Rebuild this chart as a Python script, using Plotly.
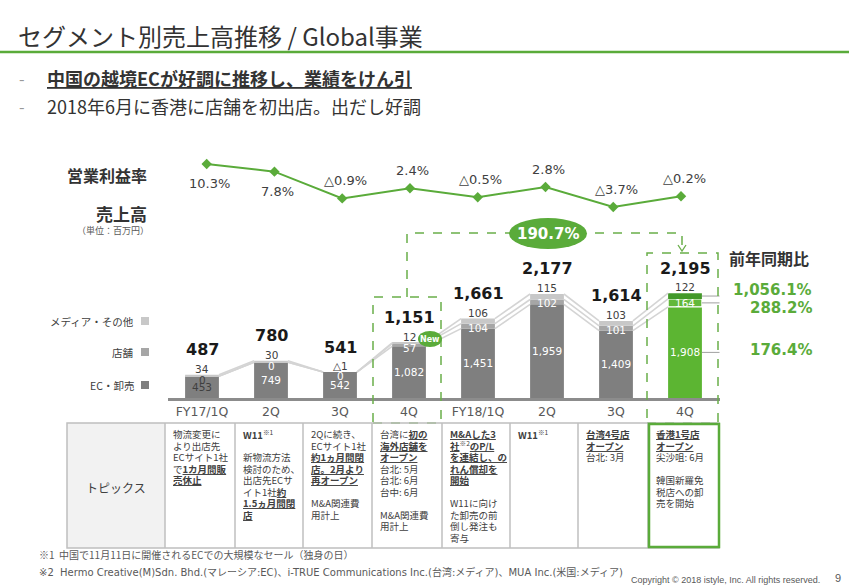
import plotly.graph_objects as go

W, H = 849, 588

# ---------------- data ----------------
categories = ["FY17/1Q", "2Q", "3Q", "4Q", "FY18/1Q", "2Q", "3Q", "4Q"]
ec_sales = [453, 749, 542, 1082, 1451, 1959, 1409, 1908]
store_sales = [0, 0, 0, 57, 104, 102, 101, 164]
media_sales = [34, 30, -1, 12, 106, 115, 103, 122]
total_sales = [487, 780, 541, 1151, 1661, 2177, 1614, 2195]
op_margin = [10.3, 7.8, -0.9, 2.4, -0.5, 2.8, -3.7, -0.2]
yoy_labels = ["1,056.1%", "288.2%", "176.4%"]  # media, store, EC (latest quarter)
two_year_growth = "190.7%"

topics = [
    ["物流変更に", "より出店先", "ECサイト1社", "で<b><u>1カ月間販</u></b>", "<b><u>売休止</u></b>"],
    ["<b>W11</b><sup>※1</sup>", "", "新物流方法", "検討のため、", "出店先ECサ", "イト1社<b><u>約</u></b>",
     "<b><u>1.5ヵ月間閉</u></b>", "<b><u>店</u></b>"],
    ["2Qに続き、", "ECサイト1社", "<b><u>約1ヵ月間閉</u></b>", "<b><u>店。2月より</u></b>",
     "<b><u>再オープン</u></b>", "", "M&amp;A関連費", "用計上"],
    ["台湾に<b><u>初の</u></b>", "<b><u>海外店舗を</u></b>", "<b><u>オープン</u></b>", "台北: 5月", "台北: 6月",
     "台中: 6月", "", "M&amp;A関連費", "用計上"],
    ["<b><u>M&amp;Aした3</u></b>", "<b><u>社</u></b><sup>※2</sup><b><u>のP/L</u></b>", "<b><u>を連結し、の</u></b>",
     "<b><u>れん償却を</u></b>", "<b><u>開始</u></b>", "", "W11に向け", "た卸売の前", "倒し発注も", "寄与"],
    ["<b>W11</b><sup>※1</sup>"],
    ["<b><u>台湾4号店</u></b>", "<b><u>オープン</u></b>", "台北: 3月"],
    ["<b><u>香港1号店</u></b>", "<b><u>オープン</u></b>", "尖沙咀: 6月", "", "韓国新羅免", "税店への卸", "売を開始"],
]

# ---------------- helpers ----------------
JP = "Noto Sans CJK JP"
NUM = "DejaVu Sans, Noto Sans CJK JP"
GREEN = "#5aab3a"
DARK = "#333333"


def X(px):
    return px / W


def Y(py):
    return 1 - py / H


def fmt(v):
    return ("△{:,}".format(abs(v))) if v < 0 else "{:,}".format(v)


def fmtp(v):
    return ("△{:.1f}%".format(abs(v))) if v < 0 else "{:.1f}%".format(v)


n = len(categories)
xs = list(range(n))
bw = 0.49
hw = bw / 2
gray_cols = {"ec": "#7f7f7f", "store": "#a6a6a6", "media": "#c8c8c8"}
green_cols = {"ec": "#5cb532", "store": "#62b83a", "media": "#43992a"}


def cols(key):
    return [gray_cols[key]] * (n - 1) + [green_cols[key]]


fig = go.Figure()

# stacked bars
fig.add_trace(go.Bar(x=xs, y=ec_sales, width=bw, marker=dict(color=cols("ec"), line=dict(width=0)),
                     hoverinfo="skip", xaxis="x", yaxis="y"))
fig.add_trace(go.Bar(x=xs, y=store_sales, width=bw,
                     marker=dict(color=cols("store"), line=dict(color="white", width=[0] * (n - 1) + [1.2])),
                     hoverinfo="skip", xaxis="x", yaxis="y"))
fig.add_trace(go.Bar(x=xs, y=media_sales, width=bw, marker=dict(color=cols("media"), line=dict(width=0)),
                     hoverinfo="skip", xaxis="x", yaxis="y"))

# connector lines between bar tops
lvl1 = ec_sales
lvl2 = [a + b for a, b in zip(ec_sales, store_sales)]
lvl3 = [a + b + max(c, 0) for a, b, c in zip(ec_sales, store_sales, media_sales)]
for L in (lvl1, lvl2, lvl3):
    lx, ly = [], []
    for i in range(n - 1):
        lx += [i + hw, i + 1 - hw, None]
        ly += [L[i], L[i + 1], None]
    fig.add_trace(go.Scatter(x=lx, y=ly, mode="lines", line=dict(color="#d4d4d4", width=1.6),
                             hoverinfo="skip", xaxis="x", yaxis="y"))

# operating margin line
fig.add_trace(go.Scatter(
    x=xs, y=op_margin, mode="lines+markers",
    line=dict(color=GREEN, width=2),
    marker=dict(symbol="diamond", size=8, color=GREEN),
    hoverinfo="skip", xaxis="x2", yaxis="y2"))

ann = []
shapes = []


def txt(x, y, text, size, color="#404040", family=JP, xanchor="center", xref="paper", yref="paper", **kw):
    ann.append(dict(x=x, y=y, xref=xref, yref=yref, text=text, showarrow=False, xanchor=xanchor,
                    yanchor="middle", font=dict(family=family, size=size, color=color), **kw))


# margin labels
for i, v in enumerate(op_margin):
    txt(i, v, fmtp(v), 13, "#404040", NUM, xref="x2", yref="y2", yshift=(-20 if i < 2 else 18), xshift=3)

# bar labels
for i in range(n):
    dark_lbl = ec_sales[i] < 500
    c_in = "#404040" if dark_lbl else "white"
    txt(i, ec_sales[i] / 2, fmt(ec_sales[i]), 10.5, c_in, NUM, xref="x", yref="y")
    txt(i, lvl2[i], fmt(store_sales[i]), 10.5, c_in, NUM, xref="x", yref="y", yshift=-4)
    txt(i, lvl3[i], fmt(media_sales[i]), 10.5, "#404040", NUM, xref="x", yref="y", yshift=6)
    txt(i, lvl3[i], "<b>" + fmt(total_sales[i]) + "</b>", 16, "#1a1a1a", NUM, xref="x", yref="y", yshift=25)

# YoY labels for the latest quarter
last = n - 1
centers = [lvl2[last] + media_sales[last] / 2, ec_sales[last] + store_sales[last] / 2, ec_sales[last] / 2]
shifts = [6, -5, 2]
for c, lbl, s in zip(centers, yoy_labels, shifts):
    shapes.append(dict(type="line", xref="x", yref="y", x0=last + hw, x1=last + 0.7, y0=c, y1=c,
                       line=dict(color="#a0a0a0", width=1)))
    txt(X(814), c, "<b>" + lbl + "</b>", 15, GREEN, NUM, xanchor="right", yref="y", yshift=s)
txt(X(769), Y(258), "<b>前年同期比</b>", 16, DARK)

# title and bullets
txt(X(16), Y(35), "セグメント別売上高推移 / Global事業", 24, "#333333", xanchor="left")
shapes.append(dict(type="line", xref="paper", yref="paper", x0=0, x1=1, y0=Y(52), y1=Y(52),
                   line=dict(color=GREEN, width=2.5)))
for py, t in [(78, "<b><u>中国の越境ECが好調に推移し、業績をけん引</u></b>"),
              (106, "2018年6月に香港に店舗を初出店。出だし好調")]:
    txt(X(22), Y(py), "-", 16, "#999999")
    txt(X(45), Y(py), t, 18, "#333333", xanchor="left")

# left labels
txt(X(149), Y(175), "<b>営業利益率</b>", 16, DARK, xanchor="right")
txt(X(149), Y(213), "<b>売上高</b>", 17, DARK, xanchor="right")
txt(X(151), Y(231), "（単位：百万円）", 9, "#595959", xanchor="right")
for py, t, col in [(321, "メディア・その他", gray_cols["media"]), (352, "店舗", gray_cols["store"]),
                   (385, "EC・卸売", gray_cols["ec"])]:
    txt(X(136), Y(py), t, 10.5, "#404040", xanchor="right")
    shapes.append(dict(type="rect", xref="paper", yref="paper", x0=X(141), x1=X(149), y0=Y(py + 4),
                       y1=Y(py - 4), fillcolor=col, line=dict(width=0)))

# dashed highlight boxes and connector
dash_line = dict(color="#6aae4a", width=1.5, dash="dash")
shapes.append(dict(type="rect", xref="paper", yref="paper", x0=X(373), x1=X(441), y0=Y(423), y1=Y(297),
                   line=dash_line))
shapes.append(dict(type="rect", xref="paper", yref="paper", x0=X(647), x1=X(718), y0=Y(423), y1=Y(253),
                   line=dash_line))
shapes.append(dict(type="path", xref="paper", yref="paper",
                   path="M {} {} L {} {} L {} {} L {} {}".format(X(407), Y(297), X(407), Y(233), X(682), Y(233),
                                                                  X(682), Y(251)),
                   line=dash_line))
shapes.append(dict(type="path", xref="paper", yref="paper",
                   path="M {} {} L {} {} L {} {}".format(X(678), Y(245), X(682), Y(251), X(686), Y(245)),
                   line=dict(color="#6aae4a", width=1.3)))
shapes.append(dict(type="circle", xref="paper", yref="paper", x0=X(509), x1=X(587), y0=Y(249), y1=Y(218),
                   fillcolor=GREEN, line=dict(width=0)))
txt(X(548), Y(233.5), "<b>" + two_year_growth + "</b>", 15, "white", NUM)
# "New" badge
shapes.append(dict(type="circle", xref="paper", yref="paper", x0=X(418), x1=X(442), y0=Y(347), y1=Y(331),
                   fillcolor=GREEN, line=dict(width=0)))
txt(X(430), Y(339), "<b>New</b>", 8, "white", NUM)

# topics table
col_edges = [67, 165, 235, 303, 372, 442, 510, 578, 648, 719]
t_top, t_bot = 423, 548
shapes.append(dict(type="rect", xref="paper", yref="paper", x0=X(67), x1=X(165), y0=Y(t_bot), y1=Y(t_top),
                   fillcolor="#f2f2f2", line=dict(width=0)))
shapes.append(dict(type="rect", xref="paper", yref="paper", x0=X(67), x1=X(719), y0=Y(t_bot), y1=Y(t_top),
                   line=dict(color="#bfbfbf", width=1.5)))
for e in col_edges[1:-1]:
    shapes.append(dict(type="line", xref="paper", yref="paper", x0=X(e), x1=X(e), y0=Y(t_bot), y1=Y(t_top),
                       line=dict(color="#bfbfbf", width=1.5)))
shapes.append(dict(type="rect", xref="paper", yref="paper", x0=X(649), x1=X(719), y0=Y(547), y1=Y(424),
                   line=dict(color=GREEN, width=2.5)))
txt(X(116), Y(487), "トピックス", 12, "#404040")
for ci, lines in enumerate(topics):
    for li, t in enumerate(lines):
        if not t:
            continue
        txt(X(col_edges[ci + 1] + 6), Y(434 + 11.5 * li), t, 9.5, "#404040", xanchor="left")

# footnotes
txt(X(37), Y(554), "※1  中国で11月11日に開催されるECでの大規模なセール（独身の日）", 10, "#595959", xanchor="left")
txt(X(37), Y(572),
    "※2  Hermo Creative(M)Sdn. Bhd.(マレーシア:EC)、i-TRUE Communications Inc.(台湾:メディア)、MUA Inc.(米国:メディア)",
    10, "#595959", NUM, xanchor="left")
txt(X(822), Y(580), "Copyright © 2018 istyle, Inc. All rights reserved.", 9, "#595959",
    "Liberation Sans Narrow, Liberation Sans", xanchor="right")
txt(X(838), Y(578), "9", 11, "#595959", "Liberation Sans")

# ---------------- layout ----------------
bar_px_per_unit = 0.0478
y_top_px = 250
fig.update_layout(
    width=W, height=H, margin=dict(l=0, r=0, t=0, b=0),
    paper_bgcolor="white", plot_bgcolor="rgba(0,0,0,0)",
    barmode="relative", showlegend=False,
    xaxis=dict(domain=[X(167.5), X(719.5)], range=[-0.5, n - 0.5], anchor="y",
               tickvals=xs, ticktext=categories, ticks="", showgrid=False, zeroline=False,
               showline=True, linecolor="#8c8c8c", linewidth=3,
               tickfont=dict(family=NUM, size=12.5, color="#595959")),
    yaxis=dict(domain=[Y(398), Y(y_top_px)], range=[0, (398 - y_top_px) / bar_px_per_unit], visible=False),
    xaxis2=dict(domain=[X(172.8), X(714.9)], range=[-0.5, n - 0.5], anchor="y2", visible=False),
    yaxis2=dict(domain=[Y(214.1), Y(152.6)], range=[-6, 14], anchor="x2", visible=False),
    annotations=ann, shapes=shapes,
    font=dict(family=JP),
)

fig.write_html("out.html", config={"displayModeBar": False},
               post_script="document.body.style.margin='0';")
